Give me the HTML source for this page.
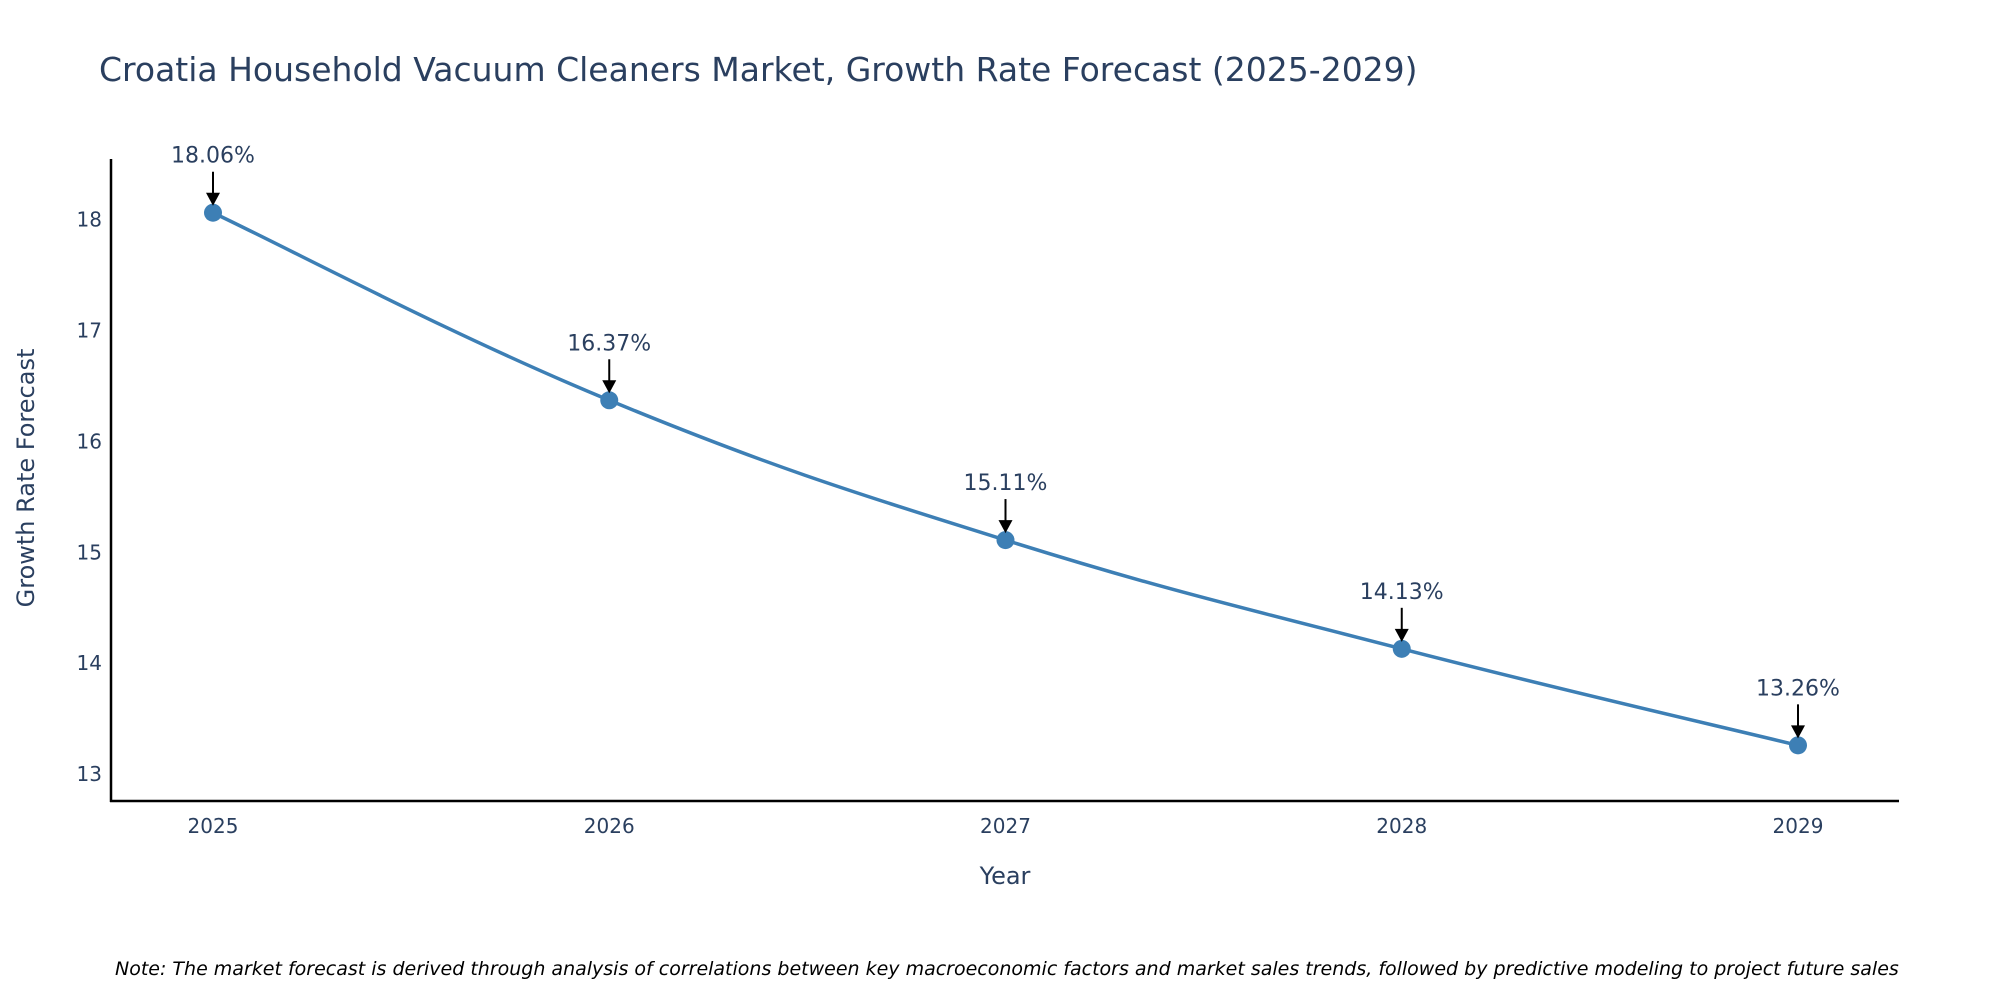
<!DOCTYPE html>
<html><head><meta charset="utf-8"><style>
body{margin:0;background:#fff;}
svg{display:block;font-family:"DejaVu Sans","Liberation Sans",sans-serif;}
</style></head><body>
<svg id="chart" width="2000" height="1000" viewBox="0 0 2000 1000">
<text x="99" y="81" font-size="33" fill="#2a3f5f">Croatia Household Vacuum Cleaners Market, Growth Rate Forecast (2025-2029)</text>
<g id="yticks"></g>
<g id="xticks"></g>
<line x1="111" y1="159" x2="111" y2="802" stroke="#000" stroke-width="2.5"/>
<line x1="110" y1="801" x2="1899" y2="801" stroke="#000" stroke-width="2.5"/>
<path id="series-line" fill="none" stroke="#3d7fb5" stroke-width="3.5"/>
<g id="points"></g>
<g id="annos"></g>
<text x="1005" y="884" font-size="24" fill="#2a3f5f" text-anchor="middle">Year</text>
<text transform="translate(34,478) rotate(-90)" font-size="24" fill="#2a3f5f" text-anchor="middle">Growth Rate Forecast</text>
<text x="115" y="975" font-size="19" font-style="italic" fill="#000">Note: The market forecast is derived through analysis of correlations between key macroeconomic factors and market sales trends, followed by predictive modeling to project future sales</text>
</svg>
<script>
const categories=["2025","2026","2027","2028","2029"];
const values=[18.06,16.37,15.11,14.13,13.26];
const yTicks=[13,14,15,16,17,18];
const NS="http://www.w3.org/2000/svg";
function xScale(i){return 213+i*(1798-213)/(categories.length-1);}
function yScale(v){return 774.2-(v-13)*(774.2-219.4)/5;}
function mk(tag,attrs,parent){const e=document.createElementNS(NS,tag);for(const k in attrs)e.setAttribute(k,attrs[k]);parent.appendChild(e);return e;}
const yg=document.getElementById('yticks');
yTicks.forEach(t=>{const e=mk('text',{x:102,y:yScale(t)+7,'font-size':20,fill:'#2a3f5f','text-anchor':'end'},yg);


e.textContent=t;});
const xg=document.getElementById('xticks');
categories.forEach((c,i)=>{const e=mk('text',{x:xScale(i),y:833,'font-size':20,fill:'#2a3f5f','text-anchor':'middle'},xg);


e.textContent=c;});
const pts=values.map((v,i)=>[xScale(i),yScale(v)]);
let d=`M${pts[0][0]},${pts[0][1]}`;
for(let i=0;i<pts.length-1;i++){const p0=pts[Math.max(0,i-1)],p1=pts[i],p2=pts[i+1],p3=pts[Math.min(pts.length-1,i+2)];const s=0.2;
d+=` C${p1[0]+(p2[0]-p0[0])*s},${p1[1]+(p2[1]-p0[1])*s} ${p2[0]-(p3[0]-p1[0])*s},${p2[1]-(p3[1]-p1[1])*s} ${p2[0]},${p2[1]}`;}
document.getElementById('series-line').setAttribute('d',d);
const pg=document.getElementById('points'),ag=document.getElementById('annos');
pts.forEach((p,i)=>{const c=mk('circle',{cx:p[0],cy:p[1],r:9,fill:'#3d7fb5'},pg);


const t=mk('text',{x:p[0],y:p[1]-50,'font-size':22,fill:'#2a3f5f','text-anchor':'middle'},ag);


t.textContent=values[i].toFixed(2)+'%';
const l=mk('line',{x1:p[0],y1:p[1]-41,x2:p[0],y2:p[1]-18,stroke:'#000','stroke-width':2},ag);


const h=mk('path',{d:`M${p[0]-7},${p[1]-20} L${p[0]+7},${p[1]-20} L${p[0]},${p[1]-7} Z`,fill:'#000'},ag);

});
</script>
</body></html>
